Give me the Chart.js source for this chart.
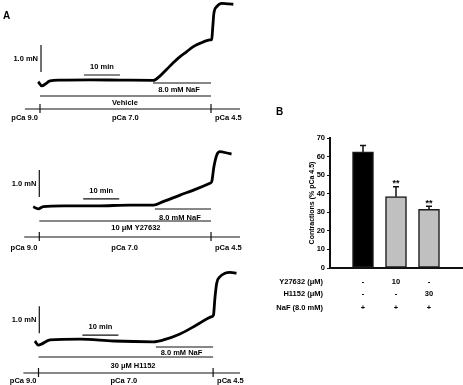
<!DOCTYPE html>
<html>
<head>
<meta charset="utf-8">
<script src="https://cdn.jsdelivr.net/npm/chart.js@4.4.1/dist/chart.umd.min.js"></script>
<style>
  html, body { margin: 0; padding: 0; background: #fff; }
  body { width: 463px; height: 385px; position: relative; overflow: hidden; }
  canvas { position: absolute; }
</style>
</head>
<body>
<canvas id="trace1" width="255" height="122" style="left:0;top:0"></canvas>
<canvas id="trace2" width="255" height="130" style="left:0;top:122px"></canvas>
<canvas id="trace3" width="255" height="133" style="left:0;top:252px"></canvas>
<canvas id="bars" width="208" height="225" style="left:255px;top:95px"></canvas>
<script>
// ---- A: force traces (time in min from pCa 7.0, force in mN above pCa 9.0 level)
const vehicleTime  = [-0.5, 0.5, 2.8, 5.6, 13.9, 22.2, 31.5, 33.3, 35.2, 37.0, 38.9, 40.7, 42.6, 44.4, 47.2, 47.7, 48.0, 48.3, 49.1, 50.5, 52.3, 53.7];
const vehicleForce = [0.01, -0.14, 0.04, 0.07, 0.08, 0.07, 0.06, 0.22, 0.47, 0.71, 0.94, 1.12, 1.31, 1.43, 1.56, 1.58, 2.05, 2.54, 2.79, 2.91, 2.89, 2.88];

const y27632Time  = [-1.7, -0.3, 1.1, 6.7, 15.9, 25.2, 31.7, 34.4, 39.1, 43.7, 47.4, 47.9, 48.5, 49.3, 50.2, 52.1, 53.4];
const y27632Force = [0.01, -0.07, 0.01, 0.04, 0.04, 0.07, 0.07, 0.20, 0.44, 0.67, 0.88, 0.94, 1.49, 1.93, 2.05, 2.00, 1.96];

const h1152Time  = [-1.0, -0.05, 3.2, 11.5, 20.8, 31.9, 34.7, 39.3, 43.9, 48.1, 48.6, 49.0, 49.5, 50.4, 51.8, 53.2, 55.0];
const h1152Force = [0.0, -0.15, 0.04, 0.07, 0.0, -0.03, 0.04, 0.26, 0.59, 0.90, 0.96, 1.58, 2.14, 2.38, 2.51, 2.54, 2.51];

const drugLabels = ['Vehicle', '10 μM Y27632', '30 μM H1152'];
const nafStart = [31.4, 32.1, 32.6];
const pca45Start = [47.5, 47.7, 48.5];
const pcaLabels = ['pCa 9.0', 'pCa 7.0', 'pCa 4.5'];

// ---- B: summary bars
const conditions = [1, 2, 3];
const contraction = [62.5, 38.4, 31.6];
const contractionSem = [3.4, 5.3, 1.6];
const significance = ['', '**', '**'];
const rowLabels = ['Y27632 (μM)', 'H1152 (μM)', 'NaF (8.0 mM)'];
const y27632Row = ['-', '10', '-'];
const h1152Row = ['-', '-', '30'];
const nafRow = ['+', '+', '+'];

const FONT = 'Liberation Sans, Arial, sans-serif';
const INK = '#111';

// pixel layout of each trace panel (local to its canvas)
const panelLayout = [
  { x0: 40,   base: 82, naf: 83, nafText: 90, drug: 96,  drugText: 103, axis: 109, label: 118, barT: 0.28, barF: 0.37, minF: 0.26, tag: 'A' },
  { x0: 39.3, base: 85, naf: 87, nafText: 96, drug: 99,  drugText: 106, axis: 115, label: 126, barT: 0.0,  barF: 0.37, minF: 0.30 },
  { x0: 38.5, base: 89, naf: 95, nafText: 101, drug: 105, drugText: 114, axis: 121, label: 129, barT: 0.22, barF: 0.29, minF: 0.22 }
];
const PX_PER_MIN = 3.6;
const PX_PER_MN = 27;

const traceMarks = {
  id: 'traceMarks',
  afterDraw(chart, args, opts) {
    const { ctx } = chart;
    const x = chart.scales.x, y = chart.scales.y;
    const L = opts.layout, i = opts.index;
    const px = t => x.getPixelForValue(t);
    const py = f => y.getPixelForValue(f);
    const hline = (a, b, yy) => { ctx.beginPath(); ctx.moveTo(a, yy); ctx.lineTo(b, yy); ctx.stroke(); };
    ctx.save();
    ctx.strokeStyle = INK;
    ctx.fillStyle = '#000';
    ctx.lineWidth = 1.2;
    ctx.font = 'bold 7.5px ' + FONT;
    ctx.textBaseline = 'middle';

    // 1.0 mN scale bar
    ctx.beginPath();
    ctx.moveTo(px(L.barT), py(L.barF));
    ctx.lineTo(px(L.barT), py(L.barF + 1));
    ctx.stroke();
    ctx.textAlign = 'right';
    ctx.fillText('1.0 mN', px(L.barT) - 3, py(L.barF + 0.5));

    // 10 min scale bar
    hline(px(12.2), px(22.2), py(L.minF));
    ctx.textAlign = 'center';
    ctx.fillText('10 min', px(17.2), py(L.minF) - 8);

    // NaF and drug application lines
    hline(px(nafStart[i]), px(pca45Start[i]), L.naf);
    ctx.fillText('8.0 mM NaF', (px(nafStart[i]) + px(pca45Start[i])) / 2 - 3, L.nafText);
    hline(px(0), px(pca45Start[i]), L.drug);
    ctx.textAlign = 'left';
    ctx.fillText(drugLabels[i], px(20), L.drugText);

    // solution time line
    hline(px(-4.2), chart.width - 15, L.axis);
    [0, pca45Start[i]].forEach(t => {
      ctx.beginPath();
      ctx.moveTo(px(t), L.axis - 5);
      ctx.lineTo(px(t), L.axis + 4);
      ctx.stroke();
    });
    ctx.textAlign = 'right';
    ctx.fillText(pcaLabels[0], px(0) - 2, L.label);
    ctx.textAlign = 'left';
    ctx.fillText(pcaLabels[1], px(20), L.label);
    ctx.fillText(pcaLabels[2], px(pca45Start[i]) + 4, L.label);

    if (L.tag) {
      ctx.font = 'bold 10px ' + FONT;
      ctx.fillText(L.tag, 3, 16);
    }
    ctx.restore();
  }
};

function drawTrace(id, index, time, force) {
  const canvas = document.getElementById(id);
  const L = panelLayout[index];
  const w = canvas.width, h = canvas.height;
  new Chart(canvas, {
    type: 'line',
    data: {
      datasets: [{
        data: time.map((t, k) => ({ x: t, y: force[k] })),
        borderColor: '#000',
        borderWidth: 2.8,
        pointRadius: 0,
        cubicInterpolationMode: 'monotone'
      }]
    },
    options: {
      responsive: false,
      animation: false,
      layout: { padding: 0 },
      plugins: {
        legend: { display: false },
        tooltip: { enabled: false },
        traceMarks: { layout: L, index: index }
      },
      scales: {
        x: { type: 'linear', display: false, min: -L.x0 / PX_PER_MIN, max: (w - L.x0) / PX_PER_MIN },
        y: { type: 'linear', display: false, min: (L.base - h) / PX_PER_MN, max: L.base / PX_PER_MN }
      }
    },
    plugins: [traceMarks]
  });
}

drawTrace('trace1', 0, vehicleTime, vehicleForce);
drawTrace('trace2', 1, y27632Time, y27632Force);
drawTrace('trace3', 2, h1152Time, h1152Force);

// error bars, significance and the treatment table under panel B
const barExtras = {
  id: 'barExtras',
  afterDatasetsDraw(chart) {
    const { ctx, chartArea } = chart;
    const x = chart.scales.x, y = chart.scales.y;
    ctx.save();
    ctx.strokeStyle = INK;
    ctx.fillStyle = '#000';
    ctx.lineWidth = 1.5;
    conditions.forEach((c, i) => {
      const cx = x.getPixelForValue(c);
      const top = y.getPixelForValue(contraction[i]);
      const hi = y.getPixelForValue(contraction[i] + contractionSem[i]);
      ctx.beginPath();
      ctx.moveTo(cx, top);
      ctx.lineTo(cx, hi);
      ctx.moveTo(cx - 3, hi);
      ctx.lineTo(cx + 3, hi);
      ctx.stroke();
      if (significance[i]) {
        ctx.font = 'bold 9px ' + FONT;
        ctx.textAlign = 'center';
        ctx.textBaseline = 'alphabetic';
        ctx.fillText(significance[i], cx, hi - 0.5);
      }
    });

    ctx.font = 'bold 7.5px ' + FONT;
    ctx.textBaseline = 'middle';
    const rows = [y27632Row, h1152Row, nafRow];
    const rowOffsets = [14, 26, 40];
    rows.forEach((row, r) => {
      const yy = chartArea.bottom + rowOffsets[r];
      ctx.textAlign = 'right';
      ctx.fillText(rowLabels[r], chartArea.left - 7, yy);
      ctx.textAlign = 'center';
      row.forEach((v, i) => ctx.fillText(v, x.getPixelForValue(conditions[i]), yy));
    });

    ctx.font = 'bold 10px ' + FONT;
    ctx.textAlign = 'left';
    ctx.fillText('B', 21, 17);
    ctx.restore();
  }
};

new Chart(document.getElementById('bars'), {
  type: 'bar',
  data: {
    datasets: [{
      data: conditions.map((c, i) => ({ x: c, y: contraction[i] })),
      backgroundColor: ['#000000', '#c0c0c0', '#c0c0c0'],
      borderColor: '#1a1a1a',
      borderWidth: 1.5,
      barThickness: 21,
      borderSkipped: false
    }]
  },
  options: {
    responsive: false,
    animation: false,
    layout: { padding: { left: 53, right: 1, top: 43, bottom: 52 } },
    plugins: { legend: { display: false }, tooltip: { enabled: false } },
    scales: {
      x: {
        type: 'linear', min: 0, max: 4, offset: false,
        grid: { display: false },
        ticks: { display: false },
        border: { color: INK, width: 2 },
        afterFit: s => { s.height = 0; }
      },
      y: {
        min: 0, max: 70,
        ticks: { stepSize: 10, color: '#000', padding: 2, font: { family: FONT, size: 7.5, weight: 'bold' } },
        grid: { drawOnChartArea: false, tickLength: 3, color: INK },
        border: { color: INK, width: 2 },
        title: { display: true, text: 'Contractions (% pCa 4.5)', color: '#000', padding: 0, font: { family: FONT, size: 7, weight: 'bold' } },
        afterFit: s => { s.width = 22; }
      }
    }
  },
  plugins: [barExtras]
});
</script>
</body>
</html>
